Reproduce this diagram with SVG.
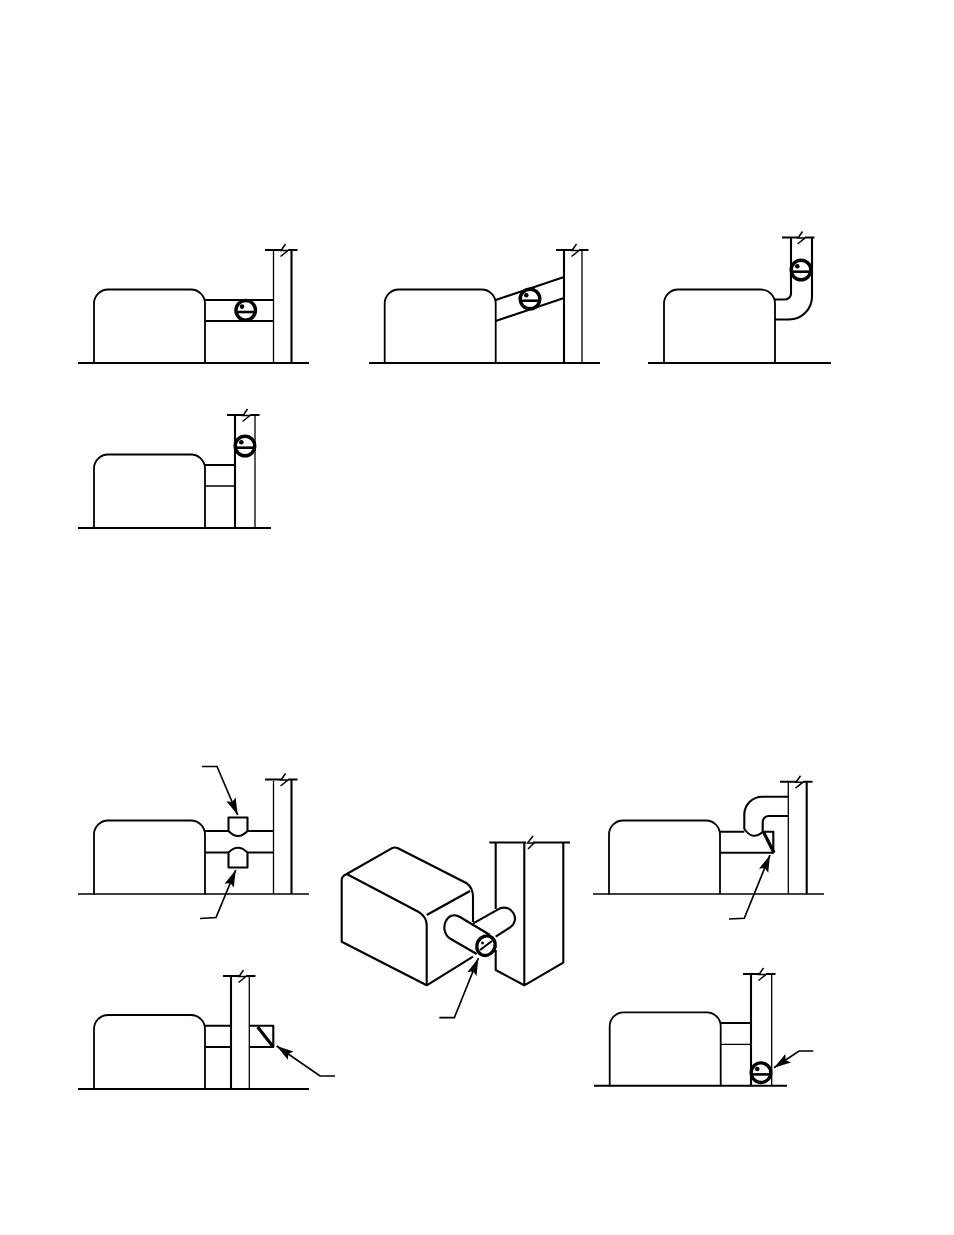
<svg xmlns="http://www.w3.org/2000/svg" xmlns:xlink="http://www.w3.org/1999/xlink" width="954" height="1235" viewBox="0 0 954 1235">
<style>
.l{fill:none;stroke:#000;stroke-width:1.3;stroke-linecap:butt;stroke-linejoin:round}
.k{fill:none;stroke:#000;stroke-width:2.100;stroke-linecap:butt;stroke-linejoin:round}
.t{fill:none;stroke:#000;stroke-width:1.500;stroke-linejoin:miter}
.r{fill:none;stroke:#000;stroke-width:3.400}
.b{fill:none;stroke:#000;stroke-width:3.200}
.a{fill:none;stroke:#000;stroke-width:1.700;stroke-linejoin:miter}
</style>
<defs>
<marker id="arrow" markerUnits="userSpaceOnUse" markerWidth="18" markerHeight="12" refX="17" refY="6" orient="auto"><path d="M0 1L17 6L0 11L3 6Z" fill="#000"/></marker>
<path id="box" class="l" style="stroke-width:1.800" d="M0 74V14A14 14 0 0 1 14 0H97A14 14 0 0 1 111 14V74"/>
<g id="gauge"><circle r="9.800" class="r"/><path d="M-9.800 1.700H9.800" class="r" style="stroke-width:2.600"/><circle cx="-3.700" cy="-3.700" r="2.300" fill="#000"/></g>
<g id="brk"><path class="k" d="M-18 0H-2M5 0H14.500"/><path class="t" d="M2.500 -6L-2 0.500H5L-2.500 6.500"/></g>
</defs>
<rect width="954" height="1235" fill="#fff"/>
<g id="panel-1">
<path class="k" d="M78 363H309"/><use href="#box" x="94" y="289.500"/>
<path class="k" d="M205 300H273.500M205 321H273.500M291.500 250V363"/><path class="l" d="M273.500 250V363"/>
<use href="#brk" x="283" y="250"/><use href="#gauge" x="245.700" y="310.300"/>
</g>
<g id="panel-2">
<path class="k" d="M369 363H600"/><use href="#box" x="384.700" y="289.500"/>
<path class="k" d="M495.700 300L564 277M495.700 321L564 298M564 250V363"/><path class="l" d="M582 250V363"/>
<use href="#brk" x="574" y="250"/><use href="#gauge" x="530" y="299"/>
</g>
<g id="panel-3">
<path class="k" d="M648 363H831"/><use href="#box" x="664" y="289.500"/>
<path class="k" d="M775 299.500H785A6 6 0 0 0 791 293.500V238M775 319.500H789A23 23 0 0 0 812 296.500V238"/>
<use href="#brk" x="800" y="237.500"/><use href="#gauge" x="801" y="270"/>
</g>
<g id="panel-4">
<path class="k" d="M78 528H271"/><use href="#box" x="94" y="454.500"/>
<path class="k" d="M205 465H235M235 415V528"/><path class="l" d="M205 486H235M255 415V528"/>
<use href="#brk" x="245" y="415"/><use href="#gauge" x="245" y="446"/>
</g>
<g id="panel-5">
<path class="l" d="M78 894H309"/><use href="#box" x="94" y="820.500"/>
<path class="k" d="M205 831H228.500M247.500 831H273.500M205 852.500H228.500M247.500 852.500H273.500M291.500 780V894"/><path class="l" d="M273.500 781V894"/>
<use href="#brk" x="283" y="779.500"/>
<path class="k" d="M228.500 831V817.500H247.500V831Q238 841 228.500 831Z"/>
<path class="k" d="M228.500 852.500V867.500H247.500V852.500Q238 843 228.500 852.500Z"/>
<path class="a" marker-end="url(#arrow)" d="M202 766.500H217L237.700 815"/>
<path class="a" marker-end="url(#arrow)" d="M200 918.500L216 917.500L235.700 870"/>
</g>
<g id="panel-6">
<path class="k" d="M346.700 874L391.700 848.300Q395 846.800 398 848.300L466.700 883.300Q473 887.500 473 896.700V922M473 956.700L426.700 985.300L341.700 941.700V880Q341.700 876 346.700 874L418.300 911.700Q426.700 917 426.700 925V985.300M426.700 915L470 891"/>
<path class="k" d="M489.300 842.500H526M533 842.500H570M495.700 842.500V909M495.700 950V970L524.300 985.300L563.300 962.700V842.500M524.300 842.500V985.300"/>
<path class="t" d="M533 836L527.500 843H534L528 849"/>
<path class="k" d="M473.300 923.300L499 908.800C512 903 521 920 510 927.500L495.700 936.700M476.700 954L450 938.500C438 930 447 909 460 917L490 935"/>
<ellipse cx="486" cy="945.700" rx="9" ry="10" transform="rotate(30 486 945.700)" class="r"/>
<path class="k" d="M480 950L492 941"/><circle cx="482.500" cy="943" r="1.400" fill="#000"/>
<path class="a" marker-end="url(#arrow)" d="M439.300 1017.700H454.300L478.300 958.300"/>
</g>
<g id="panel-7">
<path class="l" d="M593 894H824"/><use href="#box" x="609" y="820.500"/>
<path class="k" d="M720 831.700H744.300M763 831.700H773.300V852.700M720 852.700H774M806.700 781.500V894"/><path class="l" d="M788.300 782V894"/>
<use href="#brk" x="798" y="781.700"/>
<path class="k" d="M744.300 829V815A18 18 0 0 1 762.300 796.700H788.300M762.700 831.700V822A6 6 0 0 1 768.700 816H788.300M744.300 829Q753 841 762.700 831.700"/>
<path class="b" d="M763.500 832L774 852.700"/>
<path class="a" marker-end="url(#arrow)" d="M729 919L744.300 918.300L770 855"/>
</g>
<g id="panel-8">
<path class="k" d="M78 1089H309"/><use href="#box" x="94" y="1015"/>
<path class="k" d="M205 1025.700H231M205 1047H231M231 976V1089M249.300 1025.700H273.300V1047H249.300"/><path class="l" d="M249.300 976V1089"/>
<use href="#brk" x="241" y="976"/>
<path class="b" d="M257.700 1027L273.300 1047"/>
<path class="a" marker-end="url(#arrow)" d="M335 1076H320L276.700 1046"/>
</g>
<g id="panel-9">
<path class="k" d="M594 1085.700H787"/><use href="#box" x="609.700" y="1012.300"/>
<path class="k" d="M720.700 1023H751M751 974V1086"/><path class="l" d="M720.700 1044.300H751M771.700 974V1086"/>
<use href="#brk" x="761" y="974"/><use href="#gauge" x="761" y="1072.700"/>
<path class="a" marker-end="url(#arrow)" d="M813.300 1051H799L774 1067.700"/>
</g>
</svg>
